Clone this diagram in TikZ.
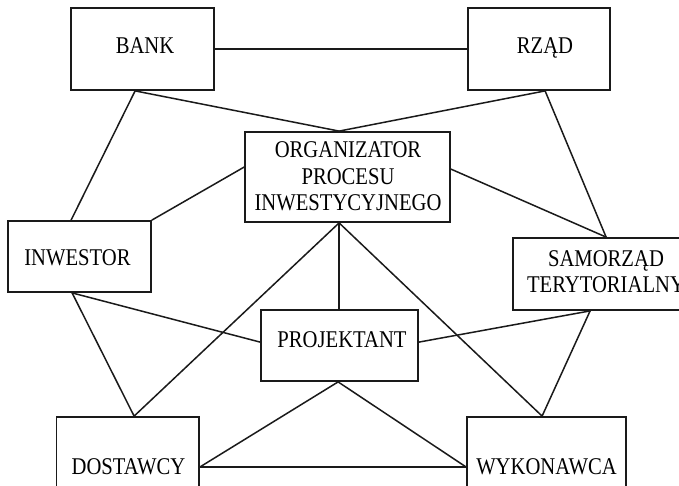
\documentclass[tikz,border=0pt]{standalone}
\usepackage{fontspec}
\setmainfont[FakeStretch=0.86]{Liberation Serif}
\usetikzlibrary{calc}
\definecolor{ink}{HTML}{1A1A1A}
\tikzset{
  box/.style={draw=ink, line width=1.8pt, inner sep=0pt, fill=none},
  lbl/.style={inner sep=0pt, anchor=base, font=\fontsize{24pt}{26.7pt}\selectfont, text=black},
  link/.style={draw=ink, line width=1.5pt, line cap=round}
}
\begin{document}
\begin{tikzpicture}[x=1pt, y=-1pt]
\useasboundingbox (0,0) rectangle (679,486);
\fill[white] (0,0) rectangle (679,486);
\clip (0,0) rectangle (679,486);
% boxes
\node[box, minimum width=143pt, minimum height=82pt] (bank) at (142.5,49) {};
\node[box, minimum width=142pt, minimum height=82pt] (rzad) at (539,49) {};
\node[box, minimum width=205pt, minimum height=90pt] (org) at (347.5,177) {};
\node[box, minimum width=143pt, minimum height=71pt] (inw) at (79.5,256.5) {};
\node[box, minimum width=187pt, minimum height=72pt] (sam) at (606.5,274) {};
\node[box, minimum width=157pt, minimum height=71pt] (proj) at (339.5,345.5) {};
\node[box, minimum width=142.5pt, minimum height=100pt] (dost) at (127.75,467) {};
\node[box, minimum width=159pt, minimum height=100pt] (wyk) at (546.5,467) {};
% labels
\node[lbl] (tbank) at (145,53.8) {BANK};
\node[lbl] (trzad) at (545,53.8) {RZĄD};
\node[lbl, align=center] (torg) at (348,210.7) {ORGANIZATOR\\PROCESU\\INWESTYCYJNEGO};
\node[lbl] (tinw) at (77.5,265.7) {INWESTOR};
\node[lbl, align=center] (tsam) at (606,292.7) {SAMORZĄD\\TERYTORIALNY};
\node[lbl] (tproj) at (342,347.3) {PROJEKTANT};
\node[lbl] (tdost) at (128.5,474.8) {DOSTAWCY};
\node[lbl] (twyk) at (546.5,474.8) {WYKONAWCA};
% connectors
\draw[link] (bank.east) -- (rzad.west);
\draw[link] ($(bank.south west)+(65,0)$) -- ($(inw.north west)+(64,0)$);
\draw[link] ($(bank.south west)+(65,0)$) -- ($(org.north west)+(95,0)$);
\draw[link] ($(rzad.south west)+(78,0)$) -- ($(org.north west)+(95,0)$);
\draw[link] ($(rzad.south west)+(78,0)$) -- ($(sam.north west)+(94,0)$);
\draw[link] ($(org.north west)+(0,36)$) -- (inw.north east);
\draw[link] ($(org.north east)+(0,38)$) -- ($(sam.north west)+(94,0)$);
\draw[link] ($(org.south west)+(95,0)$) -- ($(dost.north west)+(78.5,0)$);
\draw[link] ($(org.south west)+(95,0)$) -- ($(proj.north west)+(79,0)$);
\draw[link] ($(org.south west)+(95,0)$) -- ($(wyk.north west)+(76,0)$);
\draw[link] ($(inw.south west)+(65,0)$) -- ($(dost.north west)+(78.5,0)$);
\draw[link] ($(inw.south west)+(65,0)$) -- ($(proj.north west)+(0,33)$);
\draw[link] ($(sam.south west)+(78,0)$) -- ($(proj.north east)+(0,33)$);
\draw[link] ($(sam.south west)+(78,0)$) -- ($(wyk.north west)+(76,0)$);
\draw[link] ($(proj.south west)+(78,0)$) -- (dost.east);
\draw[link] ($(proj.south west)+(78,0)$) -- (wyk.west);
\draw[link] (dost.east) -- (wyk.west);
\end{tikzpicture}
\end{document}
